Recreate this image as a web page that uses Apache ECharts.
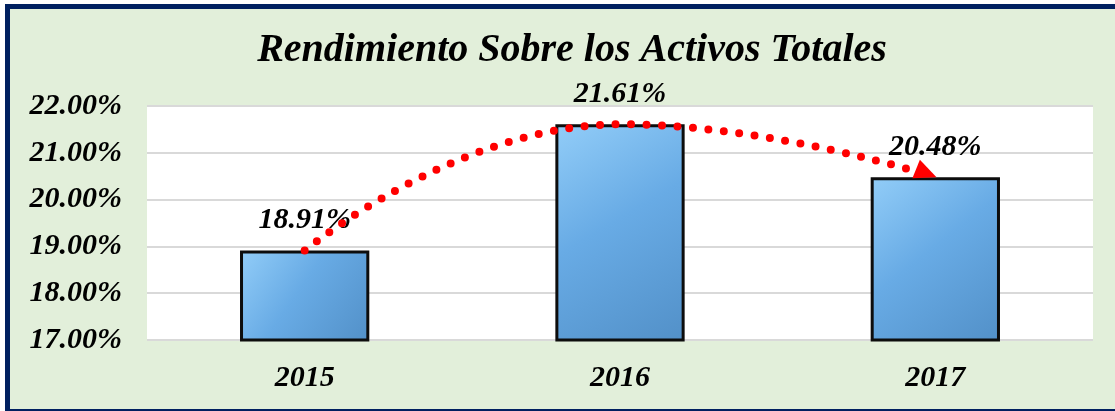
<!DOCTYPE html>
<html>
<head>
<meta charset="utf-8">
<script src="https://cdn.jsdelivr.net/npm/echarts@6/dist/echarts.min.js"></script>
<style>
  html, body { margin: 0; padding: 0; background: #fff; overflow: hidden; }
  .frame {
    position: absolute; left: 5px; top: 4px;
    width: 1120px; height: 400px;
    border: 5px solid #002060;
    background: #e2efda;
  }
  #chart { position: absolute; left: 0; top: 0; width: 1115px; height: 411px; }
</style>
</head>
<body>
<div class="frame"></div>
<div id="chart"></div>
<script>
// datos del grafico
const years = ['2015', '2016', '2017'];
const rendimiento = [18.91, 21.61, 20.48];
const yMin = 17;
const yMax = 22;

const fontFam = '"Liberation Serif", "DejaVu Serif", serif';
const chart = echarts.init(document.getElementById('chart'));

// linea de tendencia: mismos valores, la flecha va en el ultimo punto
const trendData = rendimiento.map((v, i) => i === rendimiento.length - 1
  ? { value: v, symbol: 'triangle', symbolSize: [20, 22], symbolRotate: -112, symbolOffset: [-9, -4] }
  : { value: v, symbol: 'none' });

const option = {
  animation: false,
  title: {
    text: 'Rendimiento Sobre los Activos Totales',
    left: 567,
    top: 26,
    textAlign: 'center',
    textStyle: {
      fontFamily: fontFam,
      fontStyle: 'italic',
      fontWeight: 'bold',
      fontSize: 40,
      color: '#000'
    }
  },
  grid: {
    left: 147,
    right: 22,
    top: 106,
    bottom: 71,
    show: true,
    backgroundColor: '#ffffff',
    borderWidth: 0
  },
  xAxis: {
    type: 'category',
    data: years,
    axisLine: { show: false },
    axisTick: { show: false },
    axisLabel: {
      margin: 23,
      fontFamily: fontFam,
      fontStyle: 'italic',
      fontWeight: 'bold',
      fontSize: 30,
      color: '#000'
    }
  },
  yAxis: {
    type: 'value',
    min: yMin,
    max: yMax,
    interval: 1,
    axisLine: { show: false },
    axisTick: { show: false },
    axisLabel: {
      margin: 25,
      formatter: v => v.toFixed(2) + '%',
      fontFamily: fontFam,
      fontStyle: 'italic',
      fontWeight: 'bold',
      fontSize: 30,
      color: '#000'
    },
    splitLine: {
      lineStyle: { color: '#d9d9d9', width: 2 }
    }
  },
  series: [
    {
      name: 'Rendimiento',
      type: 'bar',
      data: rendimiento,
      barWidth: '41%',
      itemStyle: {
        color: new echarts.graphic.LinearGradient(0, 0, 1, 1, [
          { offset: 0, color: '#92cdf8' },
          { offset: 0.45, color: '#68abe5' },
          { offset: 1, color: '#5290c8' }
        ]),
        borderColor: '#0d0d0d',
        borderWidth: 3
      },
      label: {
        show: true,
        position: 'top',
        distance: 15,
        formatter: p => p.value.toFixed(2) + '%',
        fontFamily: fontFam,
        fontStyle: 'italic',
        fontWeight: 'bold',
        fontSize: 30,
        color: '#000'
      },
      z: 2
    },
    {
      name: 'Tendencia',
      type: 'line',
      data: trendData,
      smooth: 0.5,
      showSymbol: true,
      itemStyle: { color: '#ff0000' },
      lineStyle: {
        color: '#ff0000',
        width: 8,
        type: [0, 15.5],
        cap: 'round'
      },
      z: 5
    }
  ]
};

chart.setOption(option);
</script>
</body>
</html>
